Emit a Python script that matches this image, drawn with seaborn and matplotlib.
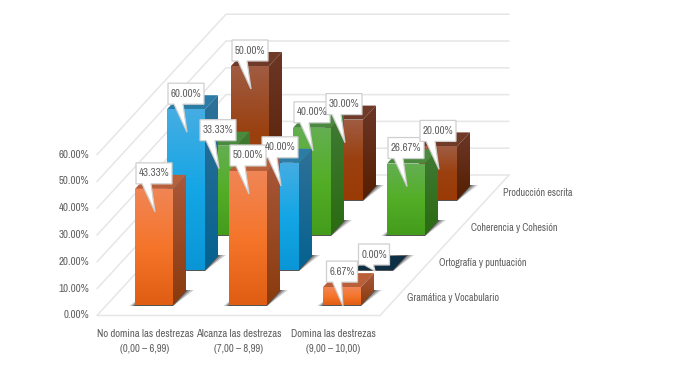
import numpy as np
import pandas as pd
import seaborn as sns
import matplotlib.pyplot as plt
from matplotlib.colors import LinearSegmentedColormap
from matplotlib.patches import Polygon

# ==================================
# Data
# ==================================

categories = ["No domina las destrezas\n(0,00 – 6,99)",
              "Alcanza las destrezas\n(7,00 – 8,99)",
              "Domina las destrezas\n(9,00 – 10,00)"]
series_names = ["Gramática y Vocabulario", "Ortografía y puntuación",
                "Coherencia y Cohesión", "Producción escrita"]
gramatica = [43.33, 50.00, 6.67]
ortografia = [60.00, 40.00, 0.00]
coherencia = [33.33, 40.00, 26.67]
produccion = [50.00, 30.00, 20.00]
ticks = [0, 10, 20, 30, 40, 50, 60]

# front stops, side stops, top colour
colors = [
    (["#F08555", "#F5752B", "#E05E14"], ["#A9583A", "#8A3B0D"], "#B9603A"),
    (["#45ADE2", "#14A6E6", "#0A96D6"], ["#2F7199", "#05628F"], "#2C7CA8"),
    (["#64AE52", "#53AE26", "#449C1C"], ["#3F7A34", "#2B6B12"], "#4A8A3E"),
    (["#A05C42", "#9A400F", "#9A3B06"], ["#6C3626", "#551F02"], "#6F3A28"),
]

# ==================================
# Projection settings (px -> data)
# ==================================

W, H = 676, 366
PX_X, PX_Y = 1 / 94, 1 / 2.68      # data units per pixel
X0_PX, Y0_PX = 154, 305            # pixel of category 0, value 0 on front row
ROW_X, ROW_Y = 32 * PX_X, 35 * PX_Y
DEPTH_X, DEPTH_Y = 13 * PX_X, 14 * PX_Y
BAR_W = 38 * PX_X
FLOOR_Y = -10.5 * PX_Y
FLOOR_L, FLOOR_R = (97 - X0_PX) * PX_X, (380 - X0_PX) * PX_X
BACK_X, BACK_Y = 129 * PX_X, 140.5 * PX_Y
TEXT_COLOR = "#5F5F5F"

sns.set_theme(style="white")
plt.rcParams['font.family'] = ['Archivo Narrow', 'Liberation Sans', 'DejaVu Sans']

rows = [gramatica, ortografia, coherencia, produccion]
rows_df = pd.DataFrame({
    "pos": np.tile(np.arange(len(categories)), len(rows)),
    "row": np.repeat(np.arange(len(rows)), len(categories)),
    "value": np.concatenate(rows),
})

fig = plt.figure(figsize=(W / 100, H / 100), dpi=100)
ax = fig.add_axes([0, 0, 1, 1])
ax.set_facecolor("white")


def gradient(poly_xy, stops, zorder):
    """Vertical gradient clipped to a polygon given in data coordinates."""
    poly = Polygon(poly_xy, closed=True, fc="none", ec="none", zorder=zorder)
    ax.add_patch(poly)
    xs, ys = zip(*poly_xy)
    cmap = LinearSegmentedColormap.from_list("g", stops)
    img = np.linspace(0, 1, 64).reshape(-1, 1)
    im = ax.imshow(img, cmap=cmap, aspect="auto", origin="upper", zorder=zorder,
                   extent=(min(xs), max(xs), min(ys), max(ys)), interpolation="bilinear")
    im.set_clip_path(poly)


# ==================================
# Wall and floor grid
# ==================================

GRID = "#E6E6E6"
for t in ticks:
    ax.plot([FLOOR_L, FLOOR_L + BACK_X, FLOOR_R + BACK_X],
            [FLOOR_Y + t, FLOOR_Y + t + BACK_Y, FLOOR_Y + t + BACK_Y],
            color=GRID, lw=1.1, zorder=1)
    ax.text(FLOOR_L - 8 * PX_X, FLOOR_Y + t, f"{t:.2f}%", ha="right", va="center",
            fontsize=7.9, color=TEXT_COLOR)
ax.plot([FLOOR_L, FLOOR_R, FLOOR_R + BACK_X],
        [FLOOR_Y, FLOOR_Y, FLOOR_Y + BACK_Y], color=GRID, lw=1.1, zorder=1)

# ==================================
# Bars, back row first
# ==================================

bars = []
for row in reversed(range(len(rows))):
    base_z = 10 + (len(rows) - row) * 10
    front, side, top = colors[row]
    before = len(ax.patches)
    sns.barplot(data=rows_df[rows_df["row"] == row], x="pos", y="value", native_scale=True,
                width=BAR_W, color=front[1], saturation=1, errorbar=None, ax=ax)
    for patch, value in zip(ax.patches[before:len(ax.patches)], rows[row]):
        patch.set_x(patch.get_x() + ROW_X * row)
        patch.set_y(ROW_Y * row)
        patch.set_zorder(base_z + 2)
        patch.set_linewidth(0)
        left, right = patch.get_x(), patch.get_x() + patch.get_width()
        bottom, upper = ROW_Y * row, ROW_Y * row + value
        # floor shadow
        for grow, alpha in [(8, 0.22), (5, 0.35), (2, 0.6)]:
            ax.add_patch(Polygon([(left - grow * 0.7 * PX_X, bottom - PX_Y),
                                  (right, bottom - PX_Y),
                                  (right + DEPTH_X + grow * PX_X, bottom + DEPTH_Y + PX_Y),
                                  (left + DEPTH_X, bottom + DEPTH_Y)],
                                 closed=True, fc="#2A2A2A", ec="none", alpha=alpha,
                                 zorder=base_z))
        ax.add_patch(Polygon([(left, upper), (right, upper),
                              (right + DEPTH_X, upper + DEPTH_Y),
                              (left + DEPTH_X, upper + DEPTH_Y)],
                             closed=True, fc=top if value > 0 else "#0E2F44", ec="none",
                             zorder=base_z + 1))
        if value > 0:
            gradient([(right, bottom), (right + DEPTH_X, bottom + DEPTH_Y),
                      (right + DEPTH_X, upper + DEPTH_Y), (right, upper)],
                     side, base_z + 1)
            gradient([(left, bottom), (right, bottom), (right, upper), (left, upper)],
                     front, base_z + 3)
        bars.append((row, left, right, bottom, upper, value))

# ==================================
# Callouts
# ==================================

for row, left, right, bottom, upper, value in sorted(bars, key=lambda b: [1, 2, 3, 0].index(b[0])):
    label = f"{value:.2f}%"
    box_w = (36 if value >= 10 else 31) * PX_X
    cx = (left + right) / 2
    bx0 = cx - box_w / 2
    by0 = upper + 5 * PX_Y
    by1 = by0 + 21 * PX_Y
    tip = (cx + PX_X, max(upper - 23 * PX_Y, bottom - PX_Y))
    pts = [(bx0, by0), (bx0 + 6 * PX_X, by0), tip, (bx0 + 15 * PX_X, by0), (bx0 + box_w, by0),
           (bx0 + box_w, by1), (bx0, by1)]
    ax.add_patch(Polygon(pts, closed=True, fc="white", ec="#CFCFCF", lw=0.9, zorder=100))
    ax.text(bx0 + box_w / 2, (by0 + by1) / 2, label, ha="center", va="center",
            fontsize=7.9, color=TEXT_COLOR, zorder=101)

# ==================================
# Axis texts
# ==================================

for i, name in enumerate(categories):
    ax.text(i - 9 * PX_X, -36.5 * PX_Y, name, ha="center", va="center",
            fontsize=7.7, color=TEXT_COLOR, linespacing=1.6)
for i, name in enumerate(series_names):
    ax.text(FLOOR_R + 27 * PX_X + ROW_X * i, 7 * PX_Y + ROW_Y * i, name, ha="left", va="center",
            fontsize=7.3, color=TEXT_COLOR)

ax.set_xlim(-X0_PX * PX_X, (W - X0_PX) * PX_X)
ax.set_ylim((Y0_PX - H) * PX_Y, Y0_PX * PX_Y)
ax.set_axis_off()

plt.savefig("out.png", dpi=100, facecolor="white")
